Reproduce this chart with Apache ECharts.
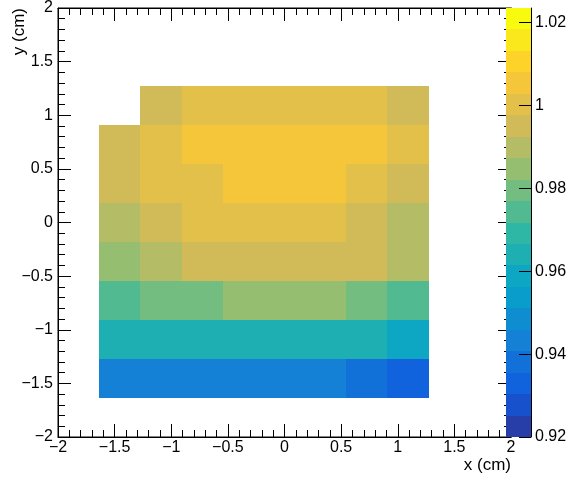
<!DOCTYPE html>
<html><head><meta charset="utf-8">
<script src="https://cdn.jsdelivr.net/npm/echarts@6/dist/echarts.min.js"></script>
<style>html,body{margin:0;padding:0;background:#fff}#c{width:570px;height:482px}</style>
</head><body><div id="c"></div>
<script>
// 11 x 11 bins over [-2, 2] cm in x and y (bin centres)
const xBins = ['-1.818','-1.455','-1.091','-0.727','-0.364','0','0.364','0.727','1.091','1.455','1.818'];
const yBins = ['-1.818','-1.455','-1.091','-0.727','-0.364','0','0.364','0.727','1.091','1.455','1.818'];
// bin contents, one array per y bin (bottom to top), x bins left to right; null = empty bin
const yRow0  = [null,null,null,null,null,null,null,null,null,null,null];
const yRow1  = [null,0.943,0.943,0.943,0.944,0.944,0.943,0.938,0.933,null,null];
const yRow2  = [null,0.964,0.965,0.965,0.965,0.965,0.964,0.964,0.959,null,null];
const yRow3  = [null,0.975,0.980,0.980,0.985,0.986,0.985,0.980,0.975,null,null];
const yRow4  = [null,0.985,0.990,0.995,0.996,0.996,0.995,0.995,0.990,null,null];
const yRow5  = [null,0.990,0.995,1.000,1.001,1.001,1.000,0.995,0.990,null,null];
const yRow6  = [null,0.995,1.000,1.001,1.006,1.006,1.006,1.001,0.996,null,null];
const yRow7  = [null,0.996,1.001,1.006,1.006,1.006,1.006,1.006,1.001,null,null];
const yRow8  = [null,null,0.996,1.001,1.001,1.001,1.001,1.001,0.996,null,null];
const yRow9  = [null,null,null,null,null,null,null,null,null,null,null];
const yRow10 = [null,null,null,null,null,null,null,null,null,null,null];
const rows = [yRow0,yRow1,yRow2,yRow3,yRow4,yRow5,yRow6,yRow7,yRow8,yRow9,yRow10];
// colour scale
const zMin = 0.92, zMax = 1.0235, nContours = 20;
const zTickValues = [0.92, 0.94, 0.96, 0.98, 1.00, 1.02];

// ROOT kBird palette (style)
const birdR=[0.2082,0.0592,0.0780,0.0232,0.1802,0.5301,0.8186,0.9956,0.9764];
const birdG=[0.1664,0.3599,0.5041,0.6419,0.7178,0.7492,0.7328,0.7862,0.9832];
const birdB=[0.5293,0.8684,0.8385,0.7914,0.6425,0.4662,0.3499,0.1968,0.0539];
function bird(t){
  const s=Math.min(7,Math.floor(t*8)); const f=t*8-s;
  const c=a=>Math.round(255*(a[s]+(a[s+1]-a[s])*f));
  return 'rgb('+c(birdR)+','+c(birdG)+','+c(birdB)+')';
}
const dz=(zMax-zMin)/nContours;
const pieces=[], cbData=[], cbCats=[];
for(let k=0;k<nContours;k++){
  const idx=Math.floor((k+0.99)*255/nContours);
  const p={gte:zMin+k*dz, color:bird(idx/254)};
  if(k<nContours-1) p.lt=zMin+(k+1)*dz; else p.lte=zMax;
  pieces.push(p);
  cbCats.push(String(k));
  cbData.push([0,k,zMin+(k+0.5)*dz]);
}
const cells=[];
rows.forEach((r,yi)=>r.forEach((v,xi)=>{ if(v!==null) cells.push([xi,yi,v]); }));

// draw a bin as a rectangle from the category axes' band geometry, edges snapped to pixels
function renderCell(params, api){
  const c=api.coord([api.value(0),api.value(1)]);
  const s=api.size([1,1]);
  const x0=Math.round(c[0]-s[0]/2), x1=Math.round(c[0]+s[0]/2);
  const y0=Math.round(c[1]-s[1]/2), y1=Math.round(c[1]+s[1]/2);
  return {type:'rect',shape:{x:x0,y:y0,width:x1-x0,height:y1-y0},
    style:{fill:api.visual('color')},silent:true};
}

const FONT='Liberation Sans, Arial, Helvetica, sans-serif';
const minus=v=>String(v).replace('-','\u2212');
function valAxis(kind,pos,showLabel,extra){
  return Object.assign({
    type:'value', gridIndex:0, position:pos, min:-2, max:2, interval:0.5,
    axisLine:{show:true,onZero:false,lineStyle:{color:'#000',width:1}},
    axisTick:{show:true,inside:true,length:13,lineStyle:{color:'#000',width:1}},
    minorTick:{show:true,splitNumber:5,length:7,lineStyle:{color:'#000',width:1}},
    splitLine:{show:false}, minorSplitLine:{show:false},
    axisLabel:{show:showLabel,color:'#000',fontSize:16,fontFamily:FONT,margin:kind==='x'?3:5,formatter:minus},
    nameMoveOverlap:false
  },extra||{});
}
const chart=echarts.init(document.getElementById('c'),null,{renderer:'canvas'});
chart.setOption({
  animation:false,
  backgroundColor:'#fff',
  grid:[
    {left:58,top:8,width:453,height:429,show:true,borderColor:'#000',borderWidth:1,backgroundColor:'transparent',containLabel:false,outerBoundsMode:'none'},
    {left:58,top:8,width:453,height:429,containLabel:false,outerBoundsMode:'none'},
    {left:506,top:8,width:25,height:429,containLabel:false,outerBoundsMode:'none'}
  ],
  xAxis:[
    valAxis('x','bottom',true,{name:'x (cm)',nameLocation:'end',nameGap:0,
      nameTextStyle:{color:'#000',fontSize:17,fontFamily:FONT,align:'right',verticalAlign:'top',padding:[20,0,0,0]}}),
    valAxis('x','top',false),
    {type:'category',gridIndex:1,data:xBins,show:false,boundaryGap:true},
    {type:'category',gridIndex:2,data:['z'],show:false,boundaryGap:true}
  ],
  yAxis:[
    valAxis('y','left',true,{name:'y (cm)',nameLocation:'end',nameGap:0,nameRotate:90,
      nameTextStyle:{color:'#000',fontSize:17,fontFamily:FONT,align:'right',verticalAlign:'bottom',padding:[0,0,30,0]}}),
    valAxis('y','right',false),
    {type:'category',gridIndex:1,data:yBins,show:false,boundaryGap:true},
    {type:'category',gridIndex:2,data:cbCats,show:false,boundaryGap:true,position:'left'},
    {type:'value',gridIndex:2,position:'right',min:zMin,max:zMax,
      axisLine:{show:true,onZero:false,lineStyle:{color:'#000',width:1}},
      axisTick:{show:true,inside:true,length:12,customValues:zTickValues,lineStyle:{color:'#000',width:1}},
      axisLabel:{show:true,color:'#000',fontSize:16,fontFamily:FONT,margin:4,customValues:zTickValues,formatter:v=>String(+v.toFixed(2))},
      splitLine:{show:false},z:10}
  ],
  visualMap:{type:'piecewise',show:false,dimension:2,seriesIndex:[0,1],pieces:pieces},
  series:[
    {type:'custom',xAxisIndex:2,yAxisIndex:2,data:cells,renderItem:renderCell,encode:{x:0,y:1},clip:false},
    {type:'custom',xAxisIndex:3,yAxisIndex:3,data:cbData,renderItem:renderCell,encode:{x:0,y:1},clip:false,z:5}
  ]
});
</script></body></html>
